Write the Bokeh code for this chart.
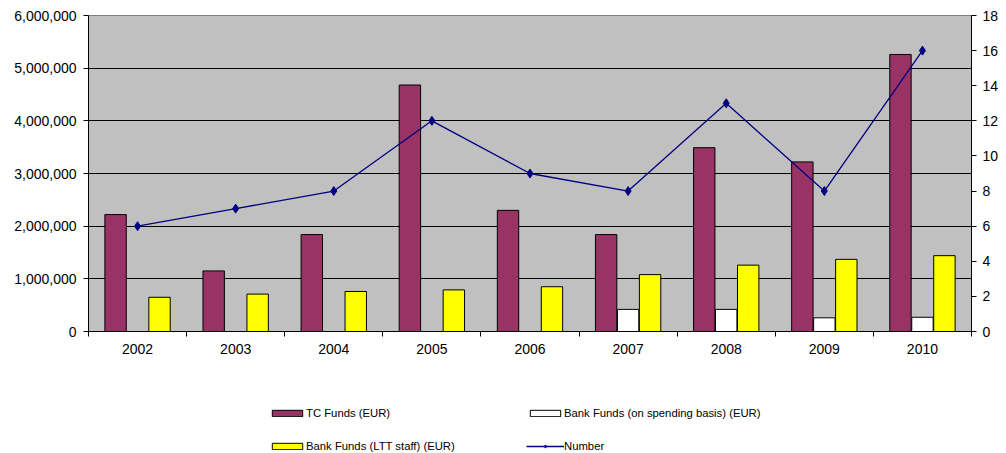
from bokeh.plotting import figure
from bokeh.layouts import column
from bokeh.models import (Range1d, LinearAxis, FixedTicker, NumeralTickFormatter,
                          Legend, LegendItem, ColumnDataSource, SingleIntervalTicker)
from bokeh.embed import file_html
from bokeh.resources import INLINE

years = [2002, 2003, 2004, 2005, 2006, 2007, 2008, 2009, 2010]
tc_funds = [2220000, 1150000, 1840000, 4680000, 2300000, 1840000, 3490000, 3220000, 5260000]
bank_spending = [0, 0, 0, 0, 0, 420000, 420000, 260000, 270000]
bank_ltt = [650000, 710000, 760000, 790000, 850000, 1080000, 1260000, 1370000, 1440000]
number = [6, 7, 8, 12, 9, 8, 13, 8, 16]
series_names = ["TC Funds (EUR)", "Bank Funds (on spending basis) (EUR)",
                "Bank Funds (LTT staff) (EUR)", "Number"]

FONT = "Liberation Sans"
W = 1006
H1, H2 = 365, 88

TC_COLOR, BS_COLOR, LTT_COLOR, NUM_COLOR = "#993366", "#FFFFFF", "#FFFF00", "#000080"

src = ColumnDataSource(dict(
    year=years,
    x_tc=[y - 0.224 for y in years],
    x_bs=list(years),
    x_ltt=[y + 0.224 for y in years],
    tc=tc_funds, bs=bank_spending, ltt=bank_ltt, num=number,
))

p = figure(width=W, height=H1, output_backend="svg", toolbar_location=None,
           x_range=Range1d(years[0] - 0.5, years[-1] + 0.5),
           y_range=Range1d(0, 6000000),
           min_border_left=88, min_border_right=35, min_border_top=15, min_border_bottom=34)
p.extra_y_ranges = {"num": Range1d(0, 18)}

p.background_fill_color = "#C0C0C0"
p.border_fill_color = "white"
p.outline_line_color = "#808080"
p.outline_line_width = 1
p.xgrid.visible = False
p.ygrid.grid_line_color = "#000000"
p.ygrid.grid_line_width = 1


def draw_series(fig, y_range_name):
    bw = 0.218
    r1 = fig.vbar(x="x_tc", top="tc", width=bw, source=src, fill_color=TC_COLOR, line_color="black", line_width=1)
    r2 = fig.vbar(x="x_bs", top="bs", width=bw, source=src, fill_color=BS_COLOR, line_color="black", line_width=1)
    r3 = fig.vbar(x="x_ltt", top="ltt", width=bw, source=src, fill_color=LTT_COLOR, line_color="black", line_width=1)
    r4 = fig.line(x="year", y="num", source=src, y_range_name=y_range_name, line_color=NUM_COLOR, line_width=1.3)
    r5 = fig.scatter(x="year", y="num", source=src, y_range_name=y_range_name, marker="diamond",
                     size=9, fill_color=NUM_COLOR, line_color=NUM_COLOR)
    return r1, r2, r3, r4, r5


draw_series(p, "num")

# x axis
xa = p.xaxis[0]
xa.ticker = FixedTicker(ticks=years, minor_ticks=[y + 0.5 for y in [years[0] - 1] + years])
xa.major_tick_out = 0
xa.major_tick_in = 0
xa.minor_tick_out = 5
xa.minor_tick_in = 0
xa.minor_tick_line_color = "black"
xa.axis_line_color = "black"
xa.major_label_standoff = 7
xa.major_label_text_font = FONT
xa.major_label_text_font_size = "14px"
xa.major_label_text_color = "black"

# left axis
ya = p.yaxis[0]
ya.ticker = SingleIntervalTicker(interval=1000000, num_minor_ticks=0)
ya.formatter = NumeralTickFormatter(format="0,0")
ya.major_tick_out = 5
ya.major_tick_in = 0
ya.minor_tick_out = 0
ya.axis_line_color = "black"
ya.major_tick_line_color = "black"
ya.major_label_standoff = 7
ya.major_label_text_font = FONT
ya.major_label_text_font_size = "14px"
ya.major_label_text_color = "black"

# right axis
ra = LinearAxis(y_range_name="num", ticker=SingleIntervalTicker(interval=2, num_minor_ticks=0))
ra.major_tick_out = 5
ra.major_tick_in = 0
ra.minor_tick_out = 0
ra.axis_line_color = "black"
ra.major_tick_line_color = "black"
ra.major_label_standoff = 6
ra.major_label_text_font = FONT
ra.major_label_text_font_size = "14px"
ra.major_label_text_color = "black"
p.add_layout(ra, "right")

# legend strip: a small figure below the chart whose view window lies beside the
# data (the series are drawn there only so the legend has glyph styles to show)
q = figure(width=W, height=H2, output_backend="svg", toolbar_location=None,
           x_axis_type=None, y_axis_type=None,
           x_range=Range1d(years[-1] + 10, years[-1] + 20), y_range=Range1d(10000000, 20000000),
           min_border_left=0, min_border_right=0, min_border_top=0, min_border_bottom=0)
q.extra_y_ranges = {"num": Range1d(30, 40)}
q.outline_line_color = None
q.background_fill_color = "white"
q.border_fill_color = "white"
q.xgrid.visible = False
q.ygrid.visible = False
l_tc, l_bs, l_ltt, l_line, l_pts = draw_series(q, "num")

legend = Legend(items=[
    LegendItem(label=series_names[0], renderers=[l_tc]),
    LegendItem(label=series_names[1], renderers=[l_bs]),
    LegendItem(label=series_names[2], renderers=[l_ltt]),
    LegendItem(label=series_names[3], renderers=[l_line, l_pts]),
], location=(180, 1.5), orientation="horizontal", ncols=2,
    glyph_width=38, glyph_height=8, label_height=8, label_width=199,
    label_standoff=0, spacing=21, padding=0, margin=0,
    border_line_color=None, background_fill_alpha=0,
    label_text_font=FONT, label_text_font_size="11.3px", label_text_color="black")
q.add_layout(legend, "center")

layout = column(p, q, spacing=0)
open("out.html", "w").write(file_html(layout, INLINE))
